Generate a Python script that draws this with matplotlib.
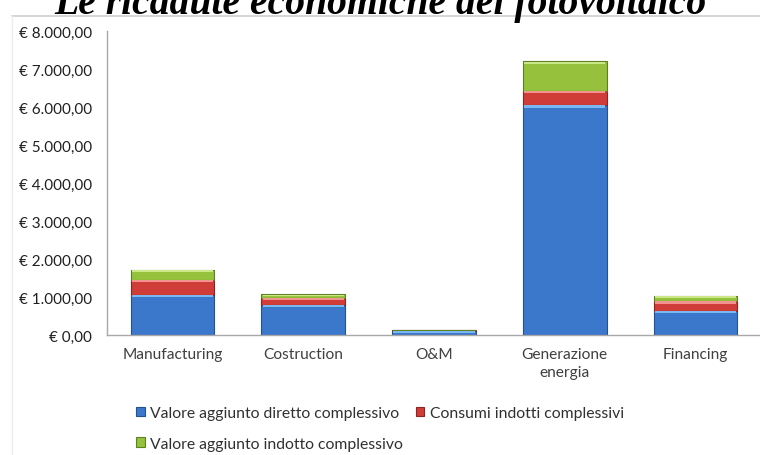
import numpy as np
import matplotlib
matplotlib.use("Agg")
import matplotlib.pyplot as plt
from matplotlib.ticker import FuncFormatter, MultipleLocator
from matplotlib.lines import Line2D

categories = ["Manufacturing", "Costruction", "O&M", "Generazione\nenergia", "Financing"]
diretto = [1060, 790, 100, 6050, 640]
consumi = [390, 180, 30, 370, 250]
indotto = [270, 100, 10, 780, 130]

series_names = [
    "Valore aggiunto diretto complessivo",
    "Consumi indotti complessivi",
    "Valore aggiunto indotto complessivo",
]
colors = ["#3b78cc", "#d03c37", "#95c13c"]
edges = ["#24528f", "#8f2522", "#5f7f22"]
highlights = ["#7ab8f2", "#f29390", "#cbe886"]

W, H = 760, 456
fig = plt.figure(figsize=(W / 100, H / 100), dpi=100)
plt.rcParams["font.family"] = ["Lato", "DejaVu Sans"]

ax = fig.add_axes([107 / W, 1 - 336 / H, (761 - 107) / W, (336 - 32) / H])

x = np.arange(len(categories))
width = 0.64
bottom = np.zeros(len(categories))
handles = []
for vals, c, e, hl, name in zip([diretto, consumi, indotto], colors, edges, highlights, series_names):
    vals = np.array(vals, dtype=float)
    b = ax.bar(x, vals, width, bottom=bottom, color=c, edgecolor=e, linewidth=0.8, label=name, zorder=2)
    # thin light strip at the top of each segment (bevel look)
    strip = np.minimum(vals * 0.3, 55)
    ax.bar(x, strip, width * 0.97, bottom=bottom + vals - strip * 1.15, color=hl, linewidth=0, zorder=3)
    handles.append(b)
    bottom += vals

ax.set_xlim(-0.5, len(categories) - 0.5)
ax.set_ylim(0, 8000)
ax.yaxis.set_major_locator(MultipleLocator(1000))


def euro(v, pos):
    s = f"{v:,.2f}".replace(",", "X").replace(".", ",").replace("X", ".")
    return f"€ {s}"


ax.yaxis.set_major_formatter(FuncFormatter(euro))
ax.set_xticks(x)
ax.set_xticklabels(categories, linespacing=1.35)
ax.tick_params(axis="both", length=0, colors="#404040")
ax.tick_params(axis="x", pad=9, labelsize=11.2)
ax.tick_params(axis="y", pad=11, labelsize=11)
for lbl in ax.get_yticklabels():
    lbl.set_color("#202020")
for s in ["top", "right"]:
    ax.spines[s].set_visible(False)
for s in ["left", "bottom"]:
    ax.spines[s].set_color("#a8a8a8")
    ax.spines[s].set_linewidth(1.0)

# legend: blue | red on first row, green on second
order = [handles[0], handles[2], handles[1]]
fig.legend(order, [h.get_label() for h in order], ncol=2,
           loc="upper left", bbox_to_anchor=(122 / W, 1 - 393 / H),
           frameon=False, fontsize=11.3, handlelength=0.55, handleheight=0.55,
           handletextpad=0.35, columnspacing=0.8, labelspacing=1.05,
           labelcolor="#303030")

# chart border (top and left) and cropped title
fig.add_artist(Line2D([12 / W, 1], [1 - 17 / H, 1 - 17 / H], color="#d0d0d0", lw=1.2))
fig.add_artist(Line2D([12 / W, 12 / W], [0, 1 - 17 / H], color="#ececec", lw=1.0))
fig.text(380 / W, 1 - 14 / H, "Le ricadute economiche del fotovoltaico",
         ha="center", va="baseline", fontsize=28.5, fontweight="bold",
         fontstyle="italic", family=["Liberation Serif", "DejaVu Serif"])

fig.savefig("out.png", dpi=100)
